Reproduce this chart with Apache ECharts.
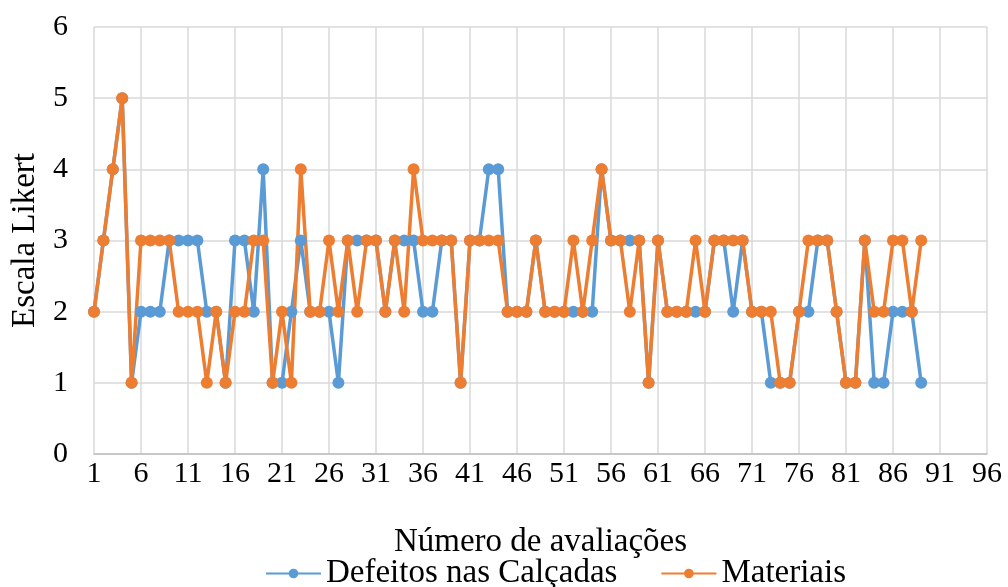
<!DOCTYPE html>
<html>
<head>
<meta charset="utf-8">
<script src="https://cdn.jsdelivr.net/npm/echarts@6/dist/echarts.min.js"></script>
<style>
  html, body { margin: 0; padding: 0; background: #fff; }
  #chart { width: 1008px; height: 587px; }
</style>
</head>
<body>
<div id="chart"></div>
<script>
// Evaluation numbers along the horizontal axis (1..96)
const evaluations = [];
for (let i = 1; i <= 96; i++) evaluations.push(String(i));

// Likert scores per evaluation
const defeitosNasCalcadas = [
  2, 3, 4, 5, 1, 2, 2, 2, 3, 3,
  3, 3, 2, 2, 1, 3, 3, 2, 4, 1,
  1, 2, 3, 2, 2, 2, 1, 3, 3, 3,
  3, 2, 3, 3, 3, 2, 2, 3, 3, 1,
  3, 3, 4, 4, 2, 2, 2, 3, 2, 2,
  2, 2, 2, 2, 4, 3, 3, 3, 3, 1,
  3, 2, 2, 2, 2, 2, 3, 3, 2, 3,
  2, 2, 1, 1, 1, 2, 2, 3, 3, 2,
  1, 1, 3, 1, 1, 2, 2, 2, 1
];
const materiais = [
  2, 3, 4, 5, 1, 3, 3, 3, 3, 2,
  2, 2, 1, 2, 1, 2, 2, 3, 3, 1,
  2, 1, 4, 2, 2, 3, 2, 3, 2, 3,
  3, 2, 3, 2, 4, 3, 3, 3, 3, 1,
  3, 3, 3, 3, 2, 2, 2, 3, 2, 2,
  2, 3, 2, 3, 4, 3, 3, 2, 3, 1,
  3, 2, 2, 2, 3, 2, 3, 3, 3, 3,
  2, 2, 2, 1, 1, 2, 3, 3, 3, 2,
  1, 1, 3, 2, 2, 3, 3, 2, 3
];

const seriesNames = ['Defeitos nas Calçadas', 'Materiais'];
const seriesColors = ['#5B9BD5', '#ED7D31'];

const serif = '"Liberation Serif", "Times New Roman", serif';

const chart = echarts.init(document.getElementById('chart'), null, { renderer: 'canvas' });

function lineSeries(name, data, color) {
  return {
    name: name,
    type: 'line',
    data: data,
    symbol: 'circle',
    symbolSize: 12,
    showSymbol: true,
    showAllSymbol: true,
    animation: false,
    lineStyle: { color: color, width: 3.5 },
    itemStyle: { color: color, borderWidth: 0 }
  };
}

chart.setOption({
  backgroundColor: '#ffffff',
  animation: false,
  grid: { left: 94, right: 21, top: 27, bottom: 133, containLabel: false },
  legend: {
    top: 552,
    left: 260,
    itemGap: 43,
    itemWidth: 55,
    itemHeight: 12,
    textStyle: { fontFamily: serif, fontSize: 33, color: '#000', padding: [0, 0, 0, 0] },
    data: seriesNames
  },
  xAxis: {
    type: 'category',
    data: evaluations,
    boundaryGap: false,
    name: 'Número de avaliações',
    nameLocation: 'middle',
    nameGap: 72,
    nameTextStyle: { fontFamily: serif, fontSize: 33, color: '#000' },
    axisLine: { show: true, lineStyle: { color: '#bfbfbf', width: 1.5 } },
    axisTick: { show: false },
    axisLabel: {
      interval: 4,
      margin: 5,
      fontFamily: serif,
      fontSize: 30,
      color: '#000'
    },
    splitLine: { show: true, interval: 4, lineStyle: { color: '#d9d9d9', width: 1.5 } }
  },
  yAxis: {
    type: 'value',
    min: 0,
    max: 6,
    interval: 1,
    name: 'Escala Likert',
    nameLocation: 'middle',
    nameGap: 52,
    nameTextStyle: { fontFamily: serif, fontSize: 33, color: '#000' },
    axisLine: { show: false },
    axisTick: { show: false },
    axisLabel: { margin: 26, fontFamily: serif, fontSize: 30, color: '#000' },
    splitLine: { show: true, lineStyle: { color: '#d9d9d9', width: 1.5 } }
  },
  series: [
    lineSeries(seriesNames[0], defeitosNasCalcadas, seriesColors[0]),
    lineSeries(seriesNames[1], materiais, seriesColors[1])
  ]
});
</script>
</body>
</html>
